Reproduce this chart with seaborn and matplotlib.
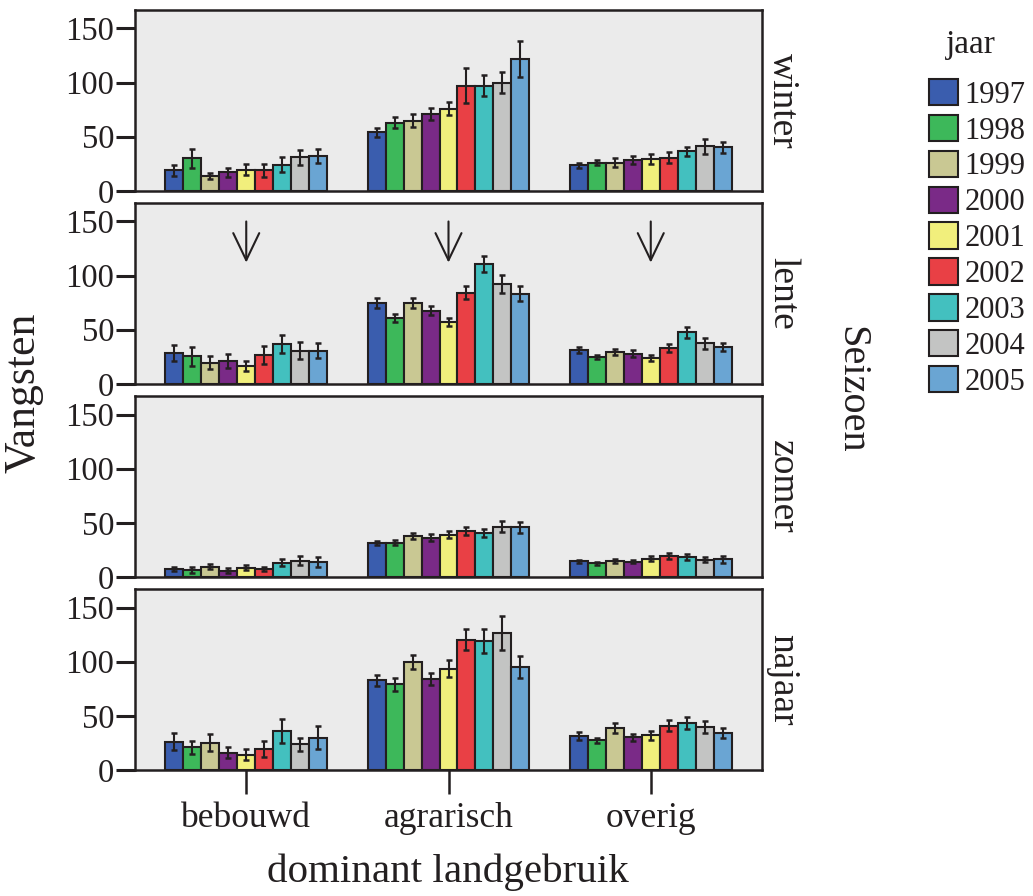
import matplotlib
matplotlib.use("Agg")
import matplotlib.pyplot as plt
from matplotlib.patches import Patch
import seaborn as sns
import pandas as pd

# ---------------- data ----------------
years = ["1997", "1998", "1999", "2000", "2001", "2002", "2003", "2004", "2005"]
landuse = ["bebouwd", "agrarisch", "overig"]
seasons = ["winter", "lente", "zomer", "najaar"]
year_colors = ["#3a5dae", "#3db85a", "#c9c893", "#7a2a87", "#f1ef7c",
               "#e94045", "#43c0bf", "#c3c4c3", "#6aa5d3"]

# means (Vangsten) per season and land use, ordered by year 1997..2005
winter_bebouwd  = [18.8, 30.0, 13.6, 17.0, 19.4, 18.8, 24.0, 31.0, 32.0]
winter_agrarisch = [54.0, 63.0, 64.5, 71.0, 76.0, 97.0, 97.0, 100.0, 122.0]
winter_overig   = [23.5, 26.0, 26.0, 28.4, 29.6, 30.6, 36.4, 41.0, 40.0]
lente_bebouwd   = [28.3, 25.5, 19.7, 21.5, 16.3, 26.8, 36.6, 30.8, 30.5]
lente_agrarisch = [74.5, 61.0, 74.8, 67.7, 57.0, 84.0, 110.8, 92.0, 83.4]
lente_overig    = [31.4, 24.6, 29.2, 28.0, 23.7, 33.0, 47.7, 37.5, 34.0]
zomer_bebouwd   = [7.1, 6.5, 9.2, 5.9, 8.6, 7.4, 13.3, 15.1, 13.9]
zomer_agrarisch = [31.4, 31.7, 37.9, 36.4, 39.1, 42.8, 40.7, 46.5, 45.9]
zomer_overig    = [14.5, 12.6, 14.8, 14.2, 17.0, 19.4, 18.2, 16.0, 16.3]
najaar_bebouwd  = [26.3, 20.8, 25.4, 15.9, 14.1, 19.6, 36.1, 23.6, 30.0]
najaar_agrarisch = [83.0, 79.0, 99.5, 84.0, 93.7, 120.4, 119.0, 126.5, 95.3]
najaar_overig   = [31.5, 27.3, 38.6, 30.3, 31.9, 41.0, 43.8, 40.0, 34.3]

# error bar half-lengths
winter_bebouwd_err  = [5.0, 9.0, 3.0, 4.5, 5.0, 6.0, 7.0, 7.0, 6.5]
winter_agrarisch_err = [4.0, 5.0, 6.0, 5.5, 6.0, 16.0, 9.5, 9.5, 16.5]
winter_overig_err   = [2.5, 2.5, 4.0, 4.0, 4.5, 5.0, 4.0, 7.0, 5.5]
lente_bebouwd_err   = [7.5, 9.0, 6.0, 6.5, 4.5, 8.0, 8.5, 7.5, 7.0]
lente_agrarisch_err = [4.5, 3.5, 4.5, 4.0, 3.5, 6.0, 7.7, 8.5, 7.0]
lente_overig_err    = [3.0, 2.0, 3.0, 3.0, 2.5, 3.4, 5.0, 5.2, 3.7]
zomer_bebouwd_err   = [1.7, 2.8, 2.3, 2.0, 2.5, 2.2, 3.0, 4.3, 4.8]
zomer_agrarisch_err = [2.0, 2.6, 2.8, 2.8, 3.3, 3.7, 4.0, 5.0, 5.0]
zomer_overig_err    = [1.5, 1.4, 1.8, 1.5, 2.5, 2.5, 2.6, 2.6, 3.0]
najaar_bebouwd_err  = [7.8, 6.4, 8.0, 5.0, 5.0, 7.5, 10.7, 6.0, 11.0]
najaar_agrarisch_err = [5.2, 5.7, 6.3, 5.4, 7.8, 10.0, 11.0, 16.0, 10.0]
najaar_overig_err   = [3.4, 2.5, 4.6, 3.4, 3.8, 5.0, 5.5, 5.5, 4.6]

arrow_top = 150
arrow_tip = 112

means = {
    "winter": [winter_bebouwd, winter_agrarisch, winter_overig],
    "lente": [lente_bebouwd, lente_agrarisch, lente_overig],
    "zomer": [zomer_bebouwd, zomer_agrarisch, zomer_overig],
    "najaar": [najaar_bebouwd, najaar_agrarisch, najaar_overig],
}
errs = {
    "winter": [winter_bebouwd_err, winter_agrarisch_err, winter_overig_err],
    "lente": [lente_bebouwd_err, lente_agrarisch_err, lente_overig_err],
    "zomer": [zomer_bebouwd_err, zomer_agrarisch_err, zomer_overig_err],
    "najaar": [najaar_bebouwd_err, najaar_agrarisch_err, najaar_overig_err],
}

rows = []
for s in seasons:
    for li, lu in enumerate(landuse):
        for yi, yr in enumerate(years):
            rows.append({"seizoen": s, "landgebruik": lu, "jaar": yr,
                         "vangsten": means[s][li][yi], "err": errs[s][li][yi]})
df = pd.DataFrame(rows)

# ---------------- style ----------------
sns.set_theme(style="white")
plt.rcParams["font.family"] = ["Liberation Serif", "DejaVu Serif"]

INK = "#231f20"
fig, axes = plt.subplots(4, 1, figsize=(10.33, 8.96), dpi=100, sharex=True)
fig.subplots_adjust(left=135 / 1033, right=762 / 1033, top=1 - 10 / 896,
                    bottom=1 - 770 / 896, hspace=0.068)

for ax, s in zip(axes, seasons):
    sub = df[df["seizoen"] == s]
    sns.barplot(data=sub, x="landgebruik", y="vangsten", hue="jaar",
                order=landuse, hue_order=years, palette=year_colors,
                errorbar=None, edgecolor=INK, linewidth=1.5, saturation=1,
                width=0.8, legend=False, ax=ax)
    bar_containers = list(ax.containers)
    for yi, cont in enumerate(bar_containers):
        xs, hs, es = [], [], []
        for li, bar in enumerate(cont):
            xs.append(bar.get_x() + bar.get_width() / 2)
            hs.append(bar.get_height())
            es.append(errs[s][li][yi])
        ax.errorbar(xs, hs, yerr=es, fmt="none", ecolor=INK, elinewidth=1.5,
                    capsize=2.4, capthick=1.8, zorder=5)
    ax.set_facecolor("#ebebeb")
    ax.set_ylim(0, 167)
    ax.set_xlim(-0.55, 2.55)
    ax.set_yticks([0, 50, 100, 150])
    ax.set_ylabel("")
    ax.set_xlabel("")
    for sp in ax.spines.values():
        sp.set_visible(True)
        sp.set_color(INK)
        sp.set_linewidth(1.8)
    ax.tick_params(axis="y", direction="out", length=14, width=2.2,
                   color=INK, labelsize=23.5, labelcolor=INK, pad=1, left=True)
    ax.text(1.032, 0.5, s, transform=ax.transAxes, rotation=-90,
            ha="center", va="center", fontsize=27, color=INK)

for ax in axes[:-1]:
    ax.tick_params(axis="x", bottom=False, labelbottom=False)
axes[-1].tick_params(axis="x", direction="out", length=17, width=1.8,
                     color=INK, labelsize=25.5, labelcolor=INK, pad=6,
                     bottom=True)

# arrows in lente panel
for xi in range(len(landuse)):
    axes[1].annotate("", xy=(xi, arrow_tip), xytext=(xi, arrow_top),
                     arrowprops=dict(arrowstyle="->,head_length=0.75,head_width=0.36",
                                     color=INK, lw=1.5, mutation_scale=26,
                                     shrinkA=0, shrinkB=0))

fig.text(24 / 1033, 1 - 393 / 896, "Vangsten", rotation=90, ha="center",
         va="center", fontsize=31.5, color=INK)
fig.text(851 / 1033, 1 - 390 / 896, "Seizoen", rotation=-90, ha="center",
         va="center", fontsize=29, color=INK)
fig.text(448 / 1033, 1 - 872 / 896, "dominant landgebruik", ha="center",
         va="center", fontsize=29.5, color=INK)

fig.text(971 / 1033, 1 - 45 / 896, "jaar", ha="center", va="center",
         fontsize=24, color=INK)
handles = [Patch(facecolor=c, edgecolor=INK, linewidth=1.5) for c in year_colors]
leg = fig.legend(handles, years, loc="upper left",
                 bbox_to_anchor=(929 / 1033, 1 - 79 / 896), frameon=False,
                 fontsize=22, handlelength=0.95,
                 handleheight=0.95, labelspacing=0.17, handletextpad=0.22,
                 borderpad=0, borderaxespad=0)
for t in leg.get_texts():
    t.set_color(INK)

fig.savefig("out.png", dpi=100)
